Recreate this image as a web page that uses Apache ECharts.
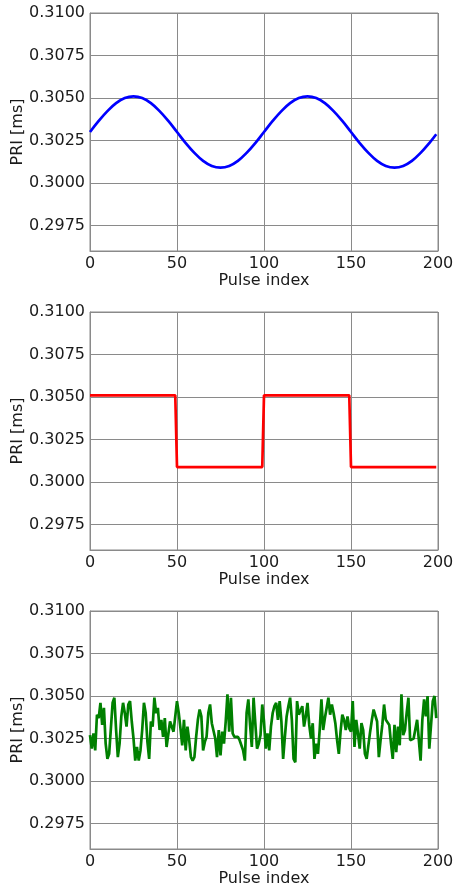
<!DOCTYPE html>
<html>
<head>
<meta charset="utf-8">
<script src="https://cdn.jsdelivr.net/npm/echarts@6/dist/echarts.min.js"></script>
<style>
  html, body { margin: 0; padding: 0; background: #ffffff; }
  #chart { width: 454px; height: 890px; }
</style>
</head>
<body>
<div id="chart"></div>
<script>
// Pulse repetition interval (ms) for three modulation patterns

// Sinusoidal modulation, sampled every 5 pulses
const sineIdx = [0, 5, 10, 15, 20, 25, 30, 35, 40, 45, 50, 55, 60, 65, 70, 75, 80, 85, 90, 95,
  100, 105, 110, 115, 120, 125, 130, 135, 140, 145, 150, 155, 160, 165, 170, 175, 180, 185, 190, 195, 199];
const sineVal = [0.30300, 0.30365, 0.30423, 0.30470, 0.30500, 0.30510, 0.30500, 0.30470, 0.30423, 0.30365,
  0.30300, 0.30235, 0.30177, 0.30130, 0.30100, 0.30090, 0.30100, 0.30130, 0.30177, 0.30235,
  0.30300, 0.30365, 0.30423, 0.30470, 0.30500, 0.30510, 0.30500, 0.30470, 0.30423, 0.30365,
  0.30300, 0.30235, 0.30177, 0.30130, 0.30100, 0.30090, 0.30100, 0.30130, 0.30177, 0.30235, 0.30287];

// Two-level switching (corner points)
const squareIdx = [0, 49, 50, 99, 100, 149, 150, 199];
const squareVal = [0.3051, 0.3051, 0.30088, 0.30088, 0.3051, 0.3051, 0.30088, 0.30088];

// Jittered PRI, one value per pulse (0..199)
const jitterVal = [
  0.3027, 0.3019, 0.3028, 0.3018, 0.3039, 0.3037, 0.3046, 0.3033, 0.3043, 0.3022,
  0.3013, 0.3016, 0.3031, 0.3046, 0.3049, 0.3030, 0.3014, 0.3022, 0.3038, 0.3046,
  0.3040, 0.3032, 0.3045, 0.3047, 0.3035, 0.3025, 0.3012, 0.3020, 0.3012, 0.3018,
  0.3030, 0.3046, 0.3040, 0.3023, 0.3013, 0.3035, 0.3032, 0.3049, 0.3040, 0.3043,
  0.3030, 0.3036, 0.3026, 0.3037, 0.3020, 0.3019, 0.3035, 0.3035, 0.3029, 0.3029,
  0.3047, 0.3040, 0.3031, 0.3021, 0.3036, 0.3018, 0.3032, 0.3024, 0.3014, 0.3012,
  0.3014, 0.3026, 0.3036, 0.3042, 0.3038, 0.3018, 0.3023, 0.3026, 0.3040, 0.3045,
  0.3034, 0.3033, 0.3025, 0.3014, 0.3030, 0.3015, 0.3029, 0.3022, 0.3035, 0.3051,
  0.3029, 0.3049, 0.3028, 0.3026, 0.3025, 0.3026, 0.3024, 0.3024, 0.3018, 0.3012,
  0.3040, 0.3048, 0.3033, 0.3020, 0.3049, 0.3034, 0.3019, 0.3022, 0.3027, 0.3045,
  0.3035, 0.3019, 0.3028, 0.3018, 0.3032, 0.3040, 0.3044, 0.3046, 0.3036, 0.3047,
  0.3035, 0.3013, 0.3026, 0.3038, 0.3044, 0.3049, 0.3036, 0.3013, 0.3011, 0.3047,
  0.3039, 0.3038, 0.3044, 0.3032, 0.3038, 0.3046, 0.3033, 0.3025, 0.3034, 0.3013,
  0.3022, 0.3016, 0.3030, 0.3048, 0.3030, 0.3037, 0.3043, 0.3049, 0.3039, 0.3045,
  0.3040, 0.3034, 0.3024, 0.3016, 0.3029, 0.3039, 0.3036, 0.3030, 0.3038, 0.3031,
  0.3029, 0.3047, 0.3020, 0.3036, 0.3028, 0.3019, 0.3034, 0.3030, 0.3016, 0.3013,
  0.3014, 0.3029, 0.3036, 0.3042, 0.3043, 0.3035, 0.3014, 0.3024, 0.3033, 0.3045,
  0.3036, 0.3035, 0.3033, 0.3022, 0.3013, 0.3033, 0.3017, 0.3032, 0.3021, 0.3051,
  0.3027, 0.3030, 0.3040, 0.3049, 0.3024, 0.3025, 0.3025, 0.3025, 0.3036, 0.3035,
  0.3012, 0.3036, 0.3048, 0.3038, 0.3050, 0.3019, 0.3020, 0.3047, 0.3050, 0.3037
];

// Axis ticks
const xTicks = [0, 50, 100, 150, 200];
const yTicks = [0.2975, 0.3000, 0.3025, 0.3050, 0.3075, 0.3100];
const yMin = 0.2960, yMax = 0.3100;

const FONT = 'DejaVu Sans';
const TEXT = '#1a1a1a';
const GRIDC = '#8a8a8a';

const panelTops = [13, 312, 611];
const panelH = 238;

const grids = panelTops.map(t => ({
  left: 90, width: 348, top: t, height: panelH,
  show: true, borderColor: GRIDC, borderWidth: 1, backgroundColor: 'transparent',
  containLabel: false, outerBoundsMode: 'none'
}));

const xAxes = panelTops.map((_, i) => ({
  type: 'value', gridIndex: i, min: xTicks[0], max: xTicks[xTicks.length - 1], interval: 50,
  name: 'Pulse index', nameLocation: 'middle', nameGap: 22, nameMoveOverlap: false,
  nameTextStyle: { fontFamily: FONT, fontSize: 16, color: TEXT },
  axisLine: { show: true, lineStyle: { color: GRIDC, width: 1 } },
  axisTick: { show: false },
  axisLabel: { fontFamily: FONT, fontSize: 16, color: TEXT, margin: 5 },
  splitLine: { show: true, lineStyle: { color: GRIDC, width: 1 } }
}));

const yAxes = panelTops.map((_, i) => ({
  type: 'value', gridIndex: i, min: yMin, max: yMax,
  name: 'PRI [ms]', nameLocation: 'middle', nameGap: 64, nameMoveOverlap: false,
  nameTextStyle: { fontFamily: FONT, fontSize: 16, color: TEXT },
  axisLine: { show: true, lineStyle: { color: GRIDC, width: 1 } },
  axisTick: { show: false, customValues: yTicks },
  axisLabel: {
    fontFamily: FONT, fontSize: 16, color: TEXT, margin: 5,
    customValues: yTicks,
    formatter: v => v.toFixed(4)
  },
  splitLine: { show: true, lineStyle: { color: GRIDC, width: 1 } }
}));

const pairs = (xs, ys) => xs.map((x, k) => [x, ys[k]]);

const option = {
  animation: false,
  backgroundColor: '#ffffff',
  grid: grids,
  xAxis: xAxes,
  yAxis: yAxes,
  series: [
    {
      type: 'line', xAxisIndex: 0, yAxisIndex: 0,
      data: pairs(sineIdx, sineVal), smooth: 0.4, showSymbol: false,
      lineStyle: { color: '#0000ff', width: 2.7 }
    },
    {
      type: 'line', xAxisIndex: 1, yAxisIndex: 1,
      data: pairs(squareIdx, squareVal), showSymbol: false,
      lineStyle: { color: '#ff0000', width: 2.7 }
    },
    {
      type: 'line', xAxisIndex: 2, yAxisIndex: 2,
      data: jitterVal.map((v, i) => [i, v]), showSymbol: false,
      lineStyle: { color: '#008000', width: 2.7 }
    }
  ]
};

const chart = echarts.init(document.getElementById('chart'), null, { renderer: 'canvas' });
chart.setOption(option);
</script>
</body>
</html>
